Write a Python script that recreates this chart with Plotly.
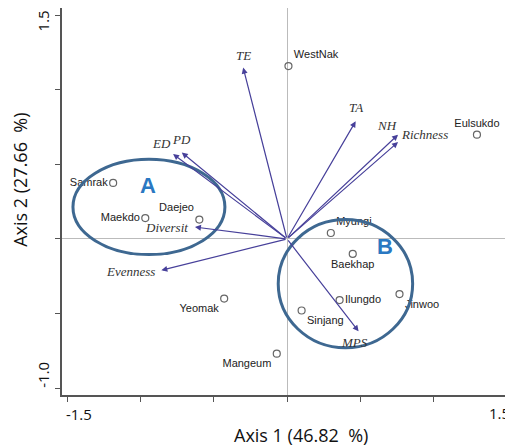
import plotly.graph_objects as go

# Site scores
sites = ["WestNak", "Eulsukdo", "Samrak", "Maekdo", "Daejeo", "Yeomak", "Mangeum",
         "Myungi", "Baekhap", "Ilungdo", "Jinwoo", "Sinjang"]
site_x = [0.01, 1.30, -1.19, -0.97, -0.60, -0.43, -0.07, 0.30, 0.45, 0.36, 0.77, 0.10]
site_y = [1.16, 0.70, 0.376, 0.14, 0.13, -0.40, -0.77, 0.04, -0.10, -0.41, -0.37, -0.48]
site_pos = ["top right", "top center", "middle left", "middle left", "top left", "bottom left",
            "bottom left", "top right", "bottom center", "middle right", "bottom right", "bottom right"]

# Variable vectors
vars_ = ["TE", "ED", "PD", "TA", "NH", "Richness", "Diversit", "Evenness", "MPS"]
vec_x = [-0.30, -0.78, -0.72, 0.47, 0.76, 0.76, -0.63, -0.86, 0.49]
vec_y = [1.15, 0.57, 0.58, 0.79, 0.70, 0.65, 0.08, -0.21, -0.62]
vec_anchor = [("center", "bottom", 0, 3), ("right", "bottom", 0, 1), ("center", "bottom", 0, 4),
              ("center", "bottom", 0, 4), ("right", "bottom", 1, 0), ("left", "middle", 1, 8),
              ("right", "middle", -5, 0), ("right", "middle", -4, -1), ("center", "top", -4, -2)]

# Groups (ellipses): name, center x, center y, radius x, radius y, label x, label y
groups = ["A", "B"]
grp_cx = [-0.945, 0.40]
grp_cy = [0.215, -0.30]
grp_rx = [0.52, 0.46]
grp_ry = [0.32, 0.43]
grp_lx = [-0.95, 0.67]
grp_ly = [0.36, -0.05]

x_range = [-1.54, 1.54]
y_range = [-1.047, 1.55]
x_tickvals = [-1.5, -1.0, -0.5, 0, 0.5, 1.0, 1.5]
x_ticktext = ["-1.5", "", "", "", "", "", ""]
x_end_tick = 1.5
x_end_text = "1.5"
y_tickvals = [-1.0, -0.5, 0, 0.5, 1.0, 1.5]
y_ticktext = ["-1.0", "", "", "", "", ""]
y_end_tick = 1.5
y_end_text = "1.5"
x_title = "Axis 1 (46.82  %)"
y_title = "Axis 2 (27.66  %)"

arrow_col = "#47409a"
ell_col = "#3e6891"


def tick_font():
    return dict(family="Open Sans, Arial", size=15, color="#111")


fig = go.Figure()
fig.add_trace(go.Scatter(
    x=site_x, y=site_y, mode="markers+text", text=sites, textposition=site_pos,
    marker=dict(symbol="circle-open", size=7, color="#666", line=dict(width=1.2)),
    textfont=dict(family="Liberation Sans, Arial", size=11, color="#222"),
    cliponaxis=False, showlegend=False, hoverinfo="skip"))

annotations = []
for n, vx, vy, (xa, ya, xs, ys) in zip(vars_, vec_x, vec_y, vec_anchor):
    annotations.append(dict(x=vx, y=vy, ax=0, ay=0, xref="x", yref="y", axref="x", ayref="y",
                            showarrow=True, arrowhead=2, arrowsize=1.0, arrowwidth=1.2,
                            arrowcolor=arrow_col, text=""))
    annotations.append(dict(x=vx, y=vy, xref="x", yref="y", text="<i>" + n + "</i>",
                            showarrow=False, xanchor=xa, yanchor=ya, xshift=xs, yshift=ys,
                            font=dict(family="Liberation Serif, Times New Roman", size=13, color="#333")))

shapes = []
for g, cx, cy, rx, ry, lx, ly in zip(groups, grp_cx, grp_cy, grp_rx, grp_ry, grp_lx, grp_ly):
    shapes.append(dict(type="circle", xref="x", yref="y", x0=cx - rx, x1=cx + rx,
                       y0=cy - ry, y1=cy + ry, line=dict(color=ell_col, width=3)))
    annotations.append(dict(x=lx, y=ly, xref="x", yref="y", text="<b>" + g + "</b>",
                            showarrow=False, font=dict(family="Liberation Sans, Arial", size=22,
                                                       color="#2a78c2")))

# End tick labels, placed at their axis values and pulled inward as in the reference
annotations.append(dict(x=x_end_tick, y=0, xref="x", yref="paper", text=x_end_text,
                        showarrow=False, xanchor="center", yanchor="top", xshift=-7, yshift=-6,
                        font=tick_font()))
annotations.append(dict(x=0, y=y_end_tick, xref="paper", yref="y", text=y_end_text,
                        textangle=-90, showarrow=False, xanchor="center", yanchor="middle",
                        xshift=-19, yshift=-6, font=tick_font()))

# Axis titles
annotations.append(dict(x=0.53, y=0, yshift=-40, xref="paper", yref="paper", text=x_title,
                        showarrow=False, xanchor="center", yanchor="middle",
                        font=dict(family="Open Sans, Arial", size=18, color="#111")))
annotations.append(dict(xref="paper", yref="paper", x=0, y=0.556, xshift=-42, text=y_title,
                        textangle=-90, showarrow=False, xanchor="center", yanchor="middle",
                        font=dict(family="Open Sans, Arial", size=18, color="#111")))

# The page body adds an 8 px offset; the figure is sized to compensate
fig.update_layout(
    width=505, height=440, margin=dict(l=54, r=1, t=0, b=53),
    plot_bgcolor="white", paper_bgcolor="white",
    shapes=shapes, annotations=annotations,
    xaxis=dict(range=x_range, tickvals=x_tickvals, ticktext=x_ticktext, automargin=False,
               ticks="outside", ticklen=5, tickcolor="#555", showgrid=False,
               zeroline=True, zerolinecolor="#bbbbbb", zerolinewidth=1,
               showline=True, linecolor="#555", linewidth=1.5, mirror=True,
               ticklabeloverflow="allow", ticklabelshift=11, tickfont=tick_font()),
    yaxis=dict(range=y_range, tickvals=y_tickvals, ticktext=y_ticktext, automargin=False,
               ticks="outside", ticklen=5, tickcolor="#555", showgrid=False,
               zeroline=True, zerolinecolor="#bbbbbb", zerolinewidth=1,
               showline=True, linecolor="#555", linewidth=1.5, mirror=True, tickangle=-90,
               ticklabeloverflow="allow", ticklabelshift=-11, tickfont=tick_font()),
)

fig.write_html("out.html")
